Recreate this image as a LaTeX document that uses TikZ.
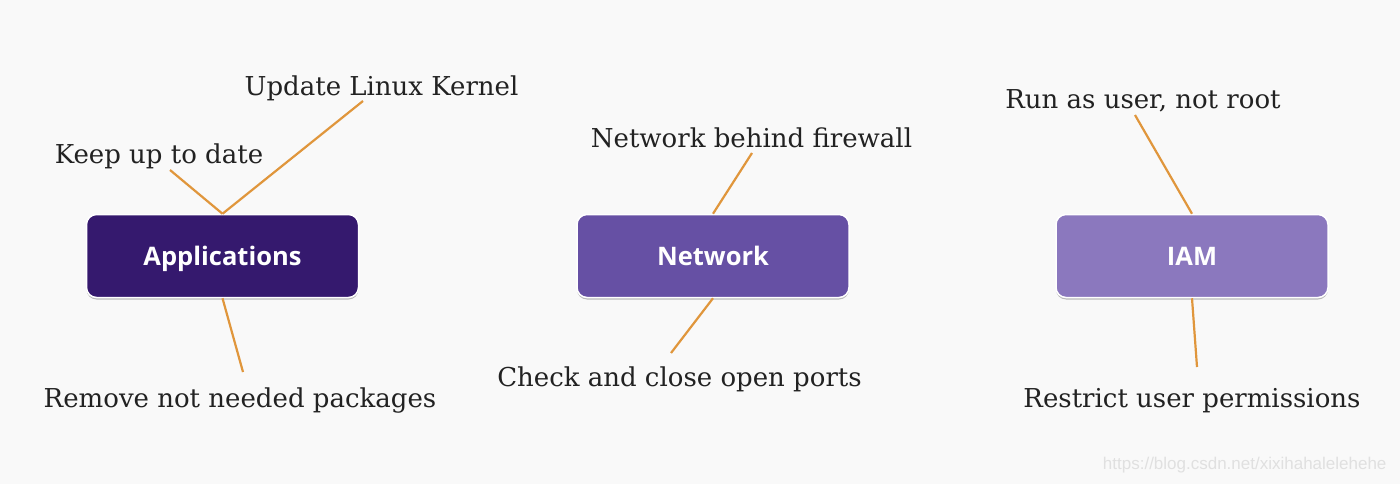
\documentclass[tikz,border=0pt]{standalone}
\usepackage{fontspec}
\setmainfont{DejaVu Serif}
\newfontfamily\boxfont{Open Sans}
\newfontfamily\wmfont{Liberation Sans}
\usetikzlibrary{shadows}
\definecolor{bg}{HTML}{F9F9F9}
\definecolor{appc}{HTML}{35196E}
\definecolor{netc}{HTML}{6650A4}
\definecolor{iamc}{HTML}{8B78BE}
\definecolor{linkc}{HTML}{E0963C}
\definecolor{txt}{HTML}{222222}
\tikzset{
  box/.style={draw=white, line width=1.5pt, rounded corners=10pt, minimum width=272pt, minimum height=83pt,
    text=white, font=\boxfont\bfseries\fontsize{25.5}{30}\selectfont, text height=18.4pt, text depth=0pt,
    drop shadow={shadow xshift=0pt, shadow yshift=-2pt, opacity=0.25, fill=black}},
  lbl/.style={text=txt, font=\fontsize{26}{30}\selectfont, inner sep=0pt},
  link/.style={draw=linkc, line width=2.2pt},
}
\begin{document}
\begin{tikzpicture}[x=1pt,y=-1pt]
\fill[bg] (0,0) rectangle (1400,484);
\useasboundingbox (0,0) rectangle (1400,484);

\node[box, fill=appc] (app) at (222.5,256) {Applications};
\node[box, fill=netc] (net) at (713,256) {Network};
\node[box, fill=iamc] (iam) at (1192,256) {IAM};

\node[lbl] (kernel) at (381.5,88) {Update Linux Kernel};
\node[lbl] (keep) at (159,156) {Keep up to date};
\node[lbl] (remove) at (240,401) {Remove not needed packages};
\node[lbl] (fw) at (751.5,138) {Network behind firewall};
\node[lbl] (ports) at (679.5,379) {Check and close open ports};
\node[lbl] (root) at (1143,101) {Run as user, not root};
\node[lbl] (perm) at (1192,401) {Restrict user permissions};

\coordinate (k1) at (363,101);
\coordinate (k2) at (170,170);
\coordinate (r1) at (243,372);
\coordinate (f1) at (752,153);
\coordinate (p1) at (671,353);
\coordinate (u1) at (1135,115);
\coordinate (m1) at (1197,367);

\draw[link] (k1) -- (app.north);
\draw[link] (k2) -- (app.north);
\draw[link] (app.south) -- (r1);
\draw[link] (f1) -- (net.north);
\draw[link] (net.south) -- (p1);
\draw[link] (u1) -- (iam.north);
\draw[link] (iam.south) -- (m1);

\node[text=black!12, font=\wmfont\fontsize{17}{20}\selectfont, anchor=east] (wm) at (1390,465) {https://blog.csdn.net/xixihahalelehehe};
\end{tikzpicture}
\end{document}
